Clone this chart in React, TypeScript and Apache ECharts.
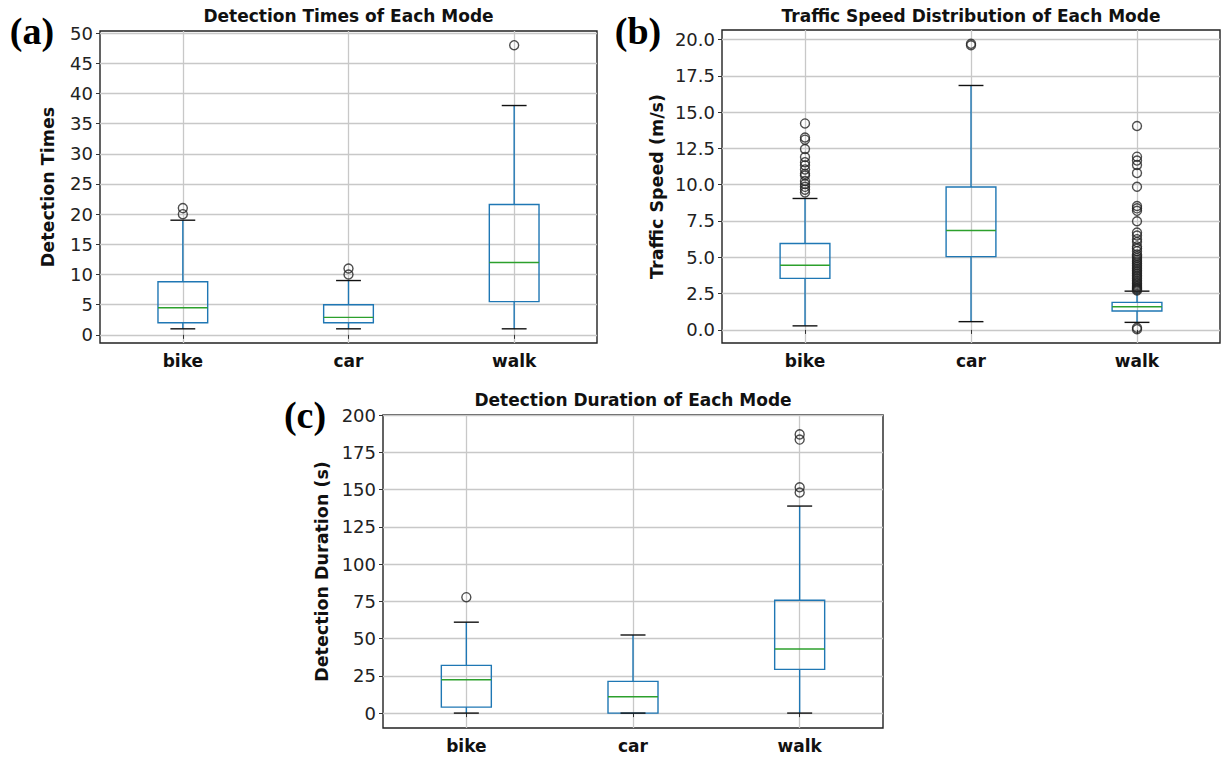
import React, { useEffect, useRef } from "react";
import * as echarts from "echarts";

const CATS = ["bike", "car", "walk"];
const CAT_POSITIONS = [1, 2, 3];

// Panel (a) Detection Times: [lowWhisker, Q1, median, Q3, highWhisker]
const timesStats = [
  [1, 2, 4.5, 8.8, 19],
  [1, 2, 2.9, 5, 9],
  [1, 5.5, 12, 21.6, 38],
];
const timesFliers = [[20, 21], [10, 11], [48]];

// Panel (b) Traffic Speed (m/s)
const speedStats = [
  [0.28, 3.55, 4.45, 5.95, 9.05],
  [0.57, 5.05, 6.85, 9.84, 16.83],
  [0.52, 1.3, 1.6, 1.9, 2.67],
];
const speedFliers = [
  [14.22, 13.25, 13.1, 12.45, 11.9, 11.55, 11.33, 11.05, 10.75, 10.63, 10.25, 10.05, 9.85, 9.66, 9.47],
  [19.6, 19.7],
  [0.05, 0.15, 14.04, 11.93, 11.66, 11.36, 10.8, 9.86, 8.53, 8.37, 8.2, 7.48, 6.7, 6.5, 6.25, 6.05, 5.75,
    5.6, 5.42, 5.2, 5.08, 4.95, 4.82, 4.7, 4.58, 4.45, 4.33, 4.22, 4.1, 3.98, 3.86, 3.75, 3.64, 3.52,
    3.41, 3.3, 3.2, 3.1, 3.0, 2.92, 2.85, 2.78, 2.72],
];

// Panel (c) Detection Duration (s)
const durationStats = [
  [0, 4, 22.4, 32, 61],
  [0, 0, 11, 21.3, 52.4],
  [0, 29.3, 43, 75.7, 138.9],
];
const durationFliers = [[77.8], [], [187, 183.5, 151.5, 148]];

// Tick values
const TIMES_TICKS = [0, 5, 10, 15, 20, 25, 30, 35, 40, 45, 50];
const SPEED_TICKS = [0, 2.5, 5, 7.5, 10, 12.5, 15, 17.5, 20];
const DURATION_TICKS = [0, 25, 50, 75, 100, 125, 150, 175, 200];

const FONT = "DejaVu Sans";
const BLUE = "#1f77b4";
const GREEN = "#2ca02c";

function isMultiple(v: number, step: number) {
  const r = v / step;
  return Math.abs(r - Math.round(r)) < 1e-6;
}

export default function App() {
  const ref = useRef<HTMLDivElement>(null);

  useEffect(() => {
    if (!ref.current) return;
    const chart = echarts.init(ref.current, undefined, { renderer: "svg" });

    const grids = [
      { left: 100, top: 31, width: 497, height: 312 },
      { left: 722, top: 30, width: 498, height: 313 },
      { left: 383, top: 415, width: 500, height: 313 },
    ];
    const yRanges = [
      { min: -1.35, max: 50.35, ticks: TIMES_TICKS, dec: 0, name: "Detection Times", gap: 43 },
      { min: -0.9, max: 20.65, ticks: SPEED_TICKS, dec: 1, name: "Traffic Speed (m/s)", gap: 56 },
      { min: -10, max: 200, ticks: DURATION_TICKS, dec: 0, name: "Detection Duration (s)", gap: 52 },
    ];
    const statsAll = [timesStats, speedStats, durationStats];
    const fliersAll = [timesFliers, speedFliers, durationFliers];
    const titles = [
      "Detection Times of Each Mode",
      "Traffic Speed Distribution of Each Mode",
      "Detection Duration of Each Mode",
    ];
    const labels = ["(a)", "(b)", "(c)"];
    const labelPos = [
      [32, 31],
      [638, 31],
      [305, 415],
    ];

    const xAxes = grids.map((_, i) => ({
      type: "value",
      gridIndex: i,
      min: 0.5,
      max: 3.5,
      minInterval: 1,
      maxInterval: 1,
      axisLine: { show: false },
      axisTick: { show: true, length: 4, lineStyle: { color: "#333" }, customValues: CAT_POSITIONS },
      splitLine: { show: true, lineStyle: { color: "#c8c8c8", width: 1.3 } },
      axisLabel: {
        margin: 9,
        fontFamily: FONT,
        fontWeight: "bold",
        fontSize: 17,
        color: "#111",
        formatter: (v: number) => (isMultiple(v, 1) && v >= 1 && v <= 3 ? CATS[Math.round(v) - 1] : ""),
      },
    }));

    const yAxes = yRanges.map((r, i) => {
      const step = r.ticks[1] - r.ticks[0];
      const lo = r.ticks[0];
      const hi = r.ticks[r.ticks.length - 1];
      return {
        type: "value",
        gridIndex: i,
        min: r.min,
        max: r.max,
        minInterval: step,
        maxInterval: step,
        name: r.name,
        nameLocation: "middle",
        nameGap: r.gap,
        nameTextStyle: { fontFamily: FONT, fontWeight: "bold", fontSize: 17.5, color: "#111" },
        axisLine: { show: false },
        axisTick: { show: true, length: 4, lineStyle: { color: "#333" }, customValues: r.ticks },
        splitLine: { show: true, lineStyle: { color: "#c8c8c8", width: 1.3 } },
        axisLabel: {
          margin: 7,
          fontFamily: FONT,
          fontSize: 18,
          color: "#222",
          formatter: (v: number) =>
            isMultiple(v, step) && v >= lo - 1e-9 && v <= hi + 1e-9 ? v.toFixed(r.dec) : "",
        },
      };
    });

    const series: any[] = [];
    statsAll.forEach((stats, i) => {
      series.push({
        type: "custom",
        xAxisIndex: i,
        yAxisIndex: i,
        data: stats.map((s, k) => [CAT_POSITIONS[k], ...s]),
        renderItem: (_params: any, api: any) => {
          const x = api.value(0);
          const lo = api.value(1);
          const q1 = api.value(2);
          const med = api.value(3);
          const q3 = api.value(4);
          const hi = api.value(5);
          const bw = 0.15;
          const cw = 0.075;
          const pLo = api.coord([x, lo]);
          const pHi = api.coord([x, hi]);
          const pQ1 = api.coord([x, q1]);
          const pQ3 = api.coord([x, q3]);
          const bl = api.coord([x - bw, q1]);
          const br = api.coord([x + bw, q3]);
          const ml = api.coord([x - bw, med]);
          const mr = api.coord([x + bw, med]);
          const cl = api.coord([x - cw, lo])[0];
          const cr = api.coord([x + cw, lo])[0];
          const lw = 1.4;
          return {
            type: "group",
            children: [
              { type: "line", shape: { x1: pLo[0], y1: pLo[1], x2: pQ1[0], y2: pQ1[1] }, style: { stroke: BLUE, lineWidth: lw } },
              { type: "line", shape: { x1: pQ3[0], y1: pQ3[1], x2: pHi[0], y2: pHi[1] }, style: { stroke: BLUE, lineWidth: lw } },
              {
                type: "rect",
                shape: { x: bl[0], y: br[1], width: br[0] - bl[0], height: bl[1] - br[1] },
                style: { stroke: BLUE, fill: "none", lineWidth: lw },
              },
              { type: "line", shape: { x1: ml[0], y1: ml[1], x2: mr[0], y2: mr[1] }, style: { stroke: GREEN, lineWidth: lw } },
              { type: "line", shape: { x1: cl, y1: pLo[1], x2: cr, y2: pLo[1] }, style: { stroke: "#111", lineWidth: lw } },
              { type: "line", shape: { x1: cl, y1: pHi[1], x2: cr, y2: pHi[1] }, style: { stroke: "#111", lineWidth: lw } },
            ],
          };
        },
        z: 3,
      });
      const pts: number[][] = [];
      fliersAll[i].forEach((arr, k) => arr.forEach((v) => pts.push([CAT_POSITIONS[k], v])));
      series.push({
        type: "scatter",
        xAxisIndex: i,
        yAxisIndex: i,
        data: pts,
        symbol: "circle",
        symbolSize: 9,
        itemStyle: { color: "rgba(0,0,0,0)", borderColor: "#222", borderWidth: 1.4 },
        z: 4,
      });
    });

    const graphics: any[] = [];
    grids.forEach((g, i) => {
      graphics.push({
        type: "text",
        x: g.left + g.width / 2,
        y: i === 2 ? 400 : 16,
        style: {
          text: titles[i],
          fontFamily: FONT,
          fontWeight: "bold",
          fontSize: 17,
          fill: "#111",
          textAlign: "center",
          textVerticalAlign: "middle",
        },
      });
      graphics.push({
        type: "text",
        x: labelPos[i][0],
        y: labelPos[i][1],
        style: {
          text: labels[i],
          fontFamily: "Liberation Serif",
          fontWeight: "bold",
          fontSize: 38,
          fill: "#000",
          textAlign: "center",
          textVerticalAlign: "middle",
        },
      });
    });

    chart.setOption({
      animation: false,
      backgroundColor: "#fff",
      grid: grids.map((g) => ({
        ...g,
        show: true,
        borderColor: "#222",
        borderWidth: 1.4,
        backgroundColor: "transparent",
        containLabel: false,
      })),
      xAxis: xAxes,
      yAxis: yAxes,
      series,
      graphic: graphics,
    });

    return () => chart.dispose();
  }, []);

  return (
    <div
      ref={ref}
      style={{ position: "absolute", left: 0, top: 0, width: 1224, height: 757, background: "#fff" }}
    />
  );
}
